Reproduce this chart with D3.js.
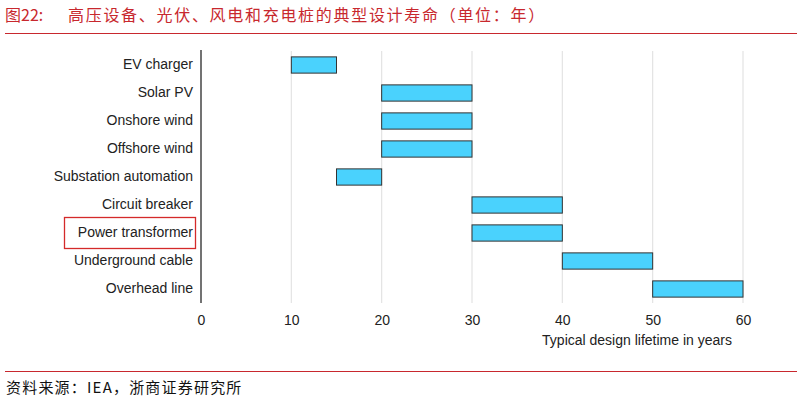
<!DOCTYPE html>
<html>
<head>
<meta charset="utf-8">
<script src="https://cdn.jsdelivr.net/npm/d3@7"></script>
<style>
  body { margin: 0; background: #fff; }
  svg { display: block; }
</style>
</head>
<body>
<svg id="chart" width="802" height="403"></svg>
<script>
// data
var categories = ["EV charger", "Solar PV", "Onshore wind", "Offshore wind",
  "Substation automation", "Circuit breaker", "Power transformer",
  "Underground cable", "Overhead line"];
var lifeMin = [10, 20, 20, 20, 15, 30, 30, 40, 50];
var lifeMax = [15, 30, 30, 30, 20, 40, 40, 50, 60];
var xTicks = [0, 10, 20, 30, 40, 50, 60];

var rows = categories.map(function(c, i) {
  return { name: c, lo: lifeMin[i], hi: lifeMax[i] };
});

var svg = d3.select("#chart");
var red = "#c8282e";
var latin = "'Liberation Sans', Arial";

// title + rules
svg.append("text")
    .attr("x", 5).attr("y", 21)
    .attr("fill", red)
    .style("font-family", "'Noto Sans CJK SC'")
    .style("font-size", "16px")
    .text("图22:");

svg.append("text")
    .attr("x", 68).attr("y", 21)
    .attr("fill", red)
    .style("font-family", "'Noto Sans CJK SC'")
    .style("font-size", "16px")
    .style("letter-spacing", "1.7px")
    .text("高压设备、光伏、风电和充电桩的典型设计寿命（单位：年）");

svg.append("line")
    .attr("x1", 5).attr("x2", 797).attr("y1", 33.5).attr("y2", 33.5)
    .attr("stroke", red).attr("stroke-width", 1);

svg.append("line")
    .attr("x1", 5).attr("x2", 797).attr("y1", 371.5).attr("y2", 371.5)
    .attr("stroke", red).attr("stroke-width", 1);

svg.append("text")
    .attr("x", 6).attr("y", 393)
    .attr("fill", "#111")
    .style("font-family", "'Noto Sans CJK SC'")
    .style("font-size", "15px")
    .style("letter-spacing", "1.2px")
    .text("资料来源：IEA，浙商证券研究所");

// scales
var x = d3.scaleLinear().domain([0, 60]).range([201, 743]);
var y = d3.scaleBand().domain(categories).range([51, 303]).paddingInner(0.42).paddingOuter(0.21);

// gridlines
svg.append("g").selectAll("line")
    .data(xTicks.slice(1))
  .enter().append("line")
    .attr("x1", function(d) { return x(d); })
    .attr("x2", function(d) { return x(d); })
    .attr("y1", 51).attr("y2", 303)
    .attr("stroke", "#e3e3e3").attr("stroke-width", 1.2);

// x axis (labels only)
var xAxis = svg.append("g")
    .attr("transform", "translate(0,303)")
    .call(d3.axisBottom(x).tickValues(xTicks).tickSize(0).tickPadding(12));
xAxis.select(".domain").remove();
xAxis.selectAll("text")
    .attr("fill", "#222")
    .style("font-family", latin)
    .style("font-size", "14px");

svg.append("text")
    .attr("x", 637).attr("y", 345)
    .attr("text-anchor", "middle")
    .attr("fill", "#222")
    .style("font-family", latin)
    .style("font-size", "14px")
    .text("Typical design lifetime in years");

// y axis
var yAxis = svg.append("g")
    .attr("transform", "translate(201,0)")
    .call(d3.axisLeft(y).tickSize(0).tickPadding(8));
yAxis.select(".domain").remove();
yAxis.selectAll("text")
    .attr("fill", "#222")
    .style("font-family", latin)
    .style("font-size", "14px");

svg.append("line")
    .attr("x1", 201).attr("x2", 201).attr("y1", 50).attr("y2", 303)
    .attr("stroke", "#444").attr("stroke-width", 1.5);

// bars
svg.append("g").selectAll("rect")
    .data(rows)
  .enter().append("rect")
    .attr("x", function(d) { return x(d.lo); })
    .attr("y", function(d) { return y(d.name); })
    .attr("width", function(d) { return x(d.hi) - x(d.lo); })
    .attr("height", y.bandwidth())
    .attr("fill", "#4ad2fd")
    .attr("stroke", "#333")
    .attr("stroke-width", 1);

// highlight box around Power transformer
var hy = y("Power transformer") + y.bandwidth() / 2;
svg.append("rect")
    .attr("x", 64.5).attr("y", hy - 15.5)
    .attr("width", 131).attr("height", 31)
    .attr("fill", "none")
    .attr("stroke", "#d42a2a")
    .attr("stroke-width", 1.3);
</script>
</body>
</html>
